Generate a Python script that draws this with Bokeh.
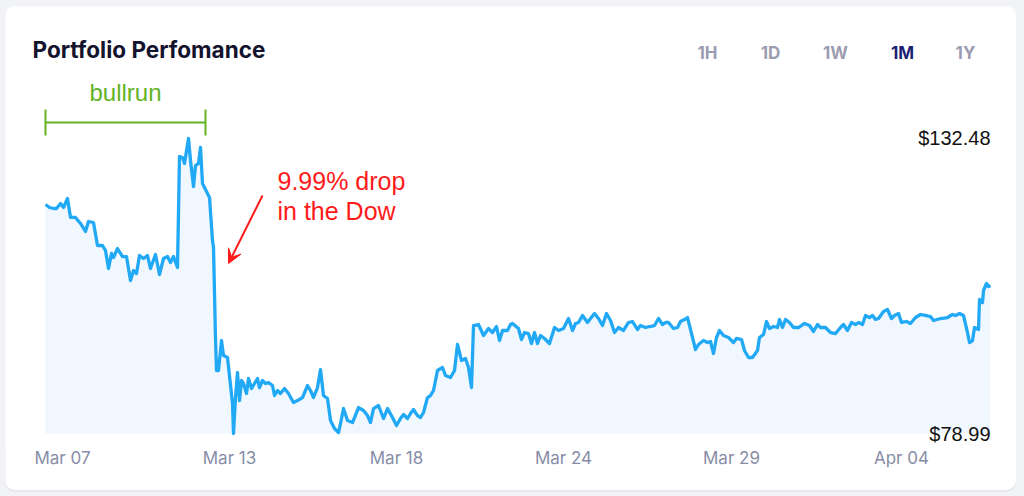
from bokeh.plotting import figure
from bokeh.models import Range1d, FixedTicker, Label, Whisker, TeeHead, Arrow, VeeHead
from bokeh.embed import file_html
from bokeh.resources import INLINE

# ---- data (sample index along the month, portfolio value in $) ----
t = [0, 4, 8, 11, 15, 18, 22, 25, 30, 35,
     40, 43, 48, 52, 57, 60, 63, 66, 68, 72,
     77, 81, 85, 88, 91, 94, 98, 102, 105, 110,
     114, 118, 122, 125, 128, 132, 134, 137, 139, 143,
     145, 148, 150, 153, 155, 157, 162, 164, 167, 168,
     170, 171, 173, 176, 178, 182, 187, 188, 190, 192,
     194, 196, 198, 201, 203, 206, 209, 212, 214, 217,
     220, 223, 227, 229, 232, 235, 239, 243, 248, 252,
     257, 262, 265, 268, 272, 275, 278, 282, 285, 289,
     293, 295, 298, 302, 307, 313, 318, 322, 325, 328,
     333, 338, 342, 347, 351, 355, 358, 362, 365, 368,
     372, 375, 378, 382, 385, 388, 392, 397, 400, 405,
     409, 412, 416, 420, 423, 426, 428, 433, 438, 443,
     447, 451, 454, 457, 462, 465, 467, 473, 476, 479,
     483, 486, 489, 492, 495, 499, 504, 509, 513, 518,
     523, 527, 530, 533, 537, 542, 545, 549, 553, 557,
     561, 565, 569, 573, 578, 583, 587, 592, 595, 600,
     604, 609, 613, 617, 620, 623, 628, 632, 635, 639,
     642, 647, 650, 653, 658, 662, 665, 668, 671, 674,
     678, 683, 688, 691, 696, 699, 703, 707, 712, 714,
     718, 721, 724, 728, 732, 734, 737, 740, 744, 748,
     753, 759, 764, 768, 772, 775, 780, 785, 790, 795,
     798, 802, 806, 810, 813, 817, 820, 824, 827, 830,
     833, 838, 842, 846, 849, 853, 856, 861, 865, 870,
     875, 880, 885, 888, 895, 902, 907, 910, 914, 918,
     922, 924, 927, 929, 933, 934, 937, 938, 941, 943,
     945]

price = [120.51, 119.97, 119.79, 119.79, 120.69, 119.97, 121.60, 118.16, 118.16, 117.07,
         115.62, 117.43, 117.25, 113.08, 113.08, 112.17, 108.91, 111.63, 110.90, 112.53,
         111.08, 111.08, 106.73, 108.55, 108.00, 111.26, 110.72, 111.26, 108.91, 111.45,
         107.82, 110.72, 111.08, 110.00, 111.08, 109.09, 129.22, 129.03, 127.95, 132.48,
         128.49, 123.78, 127.58, 127.95, 130.85, 124.32, 122.51, 121.78, 113.98, 112.72,
         96.40, 90.41, 90.41, 95.85, 93.13, 92.77, 84.43, 78.99, 85.52, 90.05,
         84.97, 88.60, 88.06, 86.24, 88.96, 87.15, 88.06, 88.96, 87.33, 88.60,
         88.06, 88.24, 87.69, 85.88, 86.79, 86.24, 87.15, 86.24, 84.61, 84.97,
         85.52, 87.69, 86.79, 85.52, 87.33, 90.59, 85.88, 85.34, 81.35, 79.90,
         79.17, 80.80, 83.52, 81.35, 80.98, 83.70, 83.16, 82.25, 80.98, 83.52,
         84.07, 81.71, 83.52, 81.89, 80.44, 81.71, 82.44, 81.71, 82.62, 83.34,
         82.25, 81.89, 82.80, 85.52, 85.88, 86.79, 90.41, 90.96, 89.51, 89.14,
         90.41, 95.13, 92.23, 92.59, 90.96, 87.33, 98.57, 98.75, 96.76, 98.03,
         97.30, 98.39, 95.85, 97.67, 97.67, 98.75, 98.94, 98.03, 96.03, 97.30,
         97.12, 95.31, 97.30, 95.31, 96.76, 96.22, 95.31, 98.21, 97.67, 98.03,
         99.84, 97.67, 98.94, 99.12, 100.39, 99.12, 99.84, 100.75, 99.84, 98.57,
         100.75, 99.48, 97.30, 98.21, 97.67, 99.12, 99.30, 97.85, 98.57, 98.21,
         98.39, 98.57, 99.84, 98.75, 99.12, 99.12, 98.03, 98.21, 99.30, 99.66,
         100.02, 96.40, 94.22, 95.13, 95.85, 95.49, 95.67, 93.50, 96.40, 97.67,
         96.76, 96.40, 95.49, 96.22, 96.03, 94.04, 92.77, 92.77, 94.04, 96.40,
         96.94, 99.30, 98.03, 98.39, 98.21, 99.66, 98.21, 99.66, 99.12, 98.21,
         98.21, 98.94, 98.57, 97.48, 98.75, 98.21, 98.21, 97.30, 97.12, 98.21,
         98.75, 97.67, 99.12, 98.75, 99.12, 98.75, 100.39, 100.02, 100.39, 99.66,
         99.84, 101.11, 101.47, 99.84, 100.39, 100.75, 99.12, 99.30, 98.94, 100.02,
         100.57, 100.39, 100.20, 99.48, 99.84, 100.02, 100.57, 100.39, 100.75, 100.39,
         97.30, 95.49, 95.85, 98.21, 97.85, 103.29, 102.74, 104.92, 106.19, 105.64,
         105.83]

tick_t = [17, 184, 351, 518, 686, 856]
tick_labels = ["Mar 07", "Mar 13", "Mar 18", "Mar 24", "Mar 29", "Apr 04"]
periods = ["1H", "1D", "1W", "1M", "1Y"]
active_period = "1M"
title_text = "Portfolio Perfomance"
bullrun_text = "bullrun"
bullrun_span = [0, 160]
drop_note = "9.99% drop\nin the Dow"

# ---- figure ----
# frame spans the card's full width; its bottom sits a little below the lowest price
p = figure(width=1011, height=484, output_backend="svg", toolbar_location=None,
           x_range=Range1d(-40, 971), y_range=Range1d(77.00, 156.41),
           y_axis_location=None,
           min_border_left=0, min_border_right=0, min_border_top=0, min_border_bottom=46)
p.margin = (6, 0, 0, 5)
p.styles = {"border-radius": "10px", "overflow": "hidden",
            "box-shadow": "0 2px 1px rgba(60,60,120,0.07)"}
p.background_fill_color = "white"
p.border_fill_color = "white"
p.outline_line_color = None
p.grid.visible = False

p.varea(x=t, y1=min(price), y2=price, fill_color="#f0f7ff")
p.line(t, price, line_width=3.3, line_color="#22a9f5", line_join="round")

ax = p.xaxis[0]
ax.ticker = FixedTicker(ticks=tick_t)
ax.major_label_overrides = {tv: lab for tv, lab in zip(tick_t, tick_labels)}
ax.axis_line_color = None
ax.major_tick_line_color = None
ax.minor_tick_line_color = None
ax.major_label_text_font = "Inter"
ax.major_label_text_font_size = "17px"
ax.major_label_text_color = "#878da6"
ax.major_label_standoff = -3

# price extremes at right
p.add_layout(Label(x=t[-1], y=max(price), text=f"${max(price):.2f}", text_align="right",
                   text_baseline="middle", text_font="Liberation Sans",
                   text_font_size="20px", text_color="#111111"))
p.add_layout(Label(x=t[-1], y=min(price), text=f"${min(price):.2f}", text_align="right",
                   text_baseline="middle", text_font="Liberation Sans",
                   text_font_size="20px", text_color="#111111"))

# title and period buttons (screen units, from frame bottom-left)
p.add_layout(Label(x=27, y=395, x_units="screen", y_units="screen", text=title_text,
                   text_baseline="middle", text_font="Inter", text_font_style="bold",
                   text_font_size="22.5px", text_color="#13132d"))
btn_x = [702, 765, 830, 897, 960]
for bx, per in zip(btn_x, periods):
    active = per == active_period
    p.add_layout(Label(x=bx, y=392, x_units="screen", y_units="screen", text=per,
                       text_align="center", text_baseline="middle", text_font="Inter",
                       text_font_style="bold", text_font_size="17px",
                       text_color="#1b1f73" if active else "#9c9cb1"))

# bullrun bracket
green = "#62b325"
p.add_layout(Whisker(base=322, base_units="screen", lower=bullrun_span[0], upper=bullrun_span[1],
                     dimension="width", line_color=green, line_width=2,
                     lower_head=TeeHead(size=26, line_color=green, line_width=2),
                     upper_head=TeeHead(size=26, line_color=green, line_width=2)))
p.add_layout(Label(x=sum(bullrun_span) / 2, y=352, y_units="screen", text=bullrun_text,
                   text_align="center", text_baseline="middle", text_font="Liberation Sans",
                   text_font_size="24px", text_color=green))

# drop annotation
red = "#ff1a1a"
p.add_layout(Arrow(x_start=257, y_start=249, x_end=223, y_end=181,
                   start_units="screen", end_units="screen",
                   line_color=red, line_width=2,
                   end=VeeHead(size=14, line_color=red, fill_color=red, line_width=1)))
p.add_layout(Label(x=272, y=278, x_units="screen", y_units="screen", text=drop_note,
                   text_baseline="top", text_font="Liberation Sans", text_font_size="25px",
                   text_line_height=1.1, text_color=red))

html = file_html(p, INLINE)
html = html.replace("<head>", "<head><style>html,body{margin:0;padding:0;background:#f2f3f7;}</style>", 1)
open("out.html", "w").write(html)
